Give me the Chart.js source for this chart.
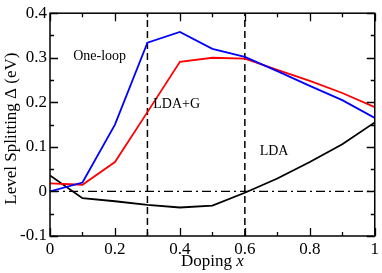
<!DOCTYPE html>
<html>
<head>
<meta charset="utf-8">
<script src="https://cdn.jsdelivr.net/npm/chart.js@4"></script>
<style>
  html, body { margin: 0; padding: 0; background: #fff; }
  #wrap { width: 382px; height: 273px; }
</style>
</head>
<body>
<div id="wrap"><canvas id="c"></canvas></div>
<script>
// doping values and level splitting (eV)
const doping = [0, 0.1, 0.2, 0.3, 0.4, 0.5, 0.6, 0.7, 0.8, 0.9, 1.0]
const oneLoop = [0.0, 0.02, 0.15, 0.334, 0.358, 0.32, 0.302, 0.27, 0.237, 0.205, 0.165]
const ldaG = [0.018, 0.015, 0.066, 0.178, 0.291, 0.300, 0.298, 0.273, 0.248, 0.221, 0.189]
const lda = [0.036, -0.015, -0.022, -0.030, -0.036, -0.032, -0.003, 0.029, 0.066, 0.106, 0.155]
const markers = [0.3, 0.6]
const xTicks = [0, 0.2, 0.4, 0.6, 0.8, 1]
const yTicks = [-0.1, 0, 0.1, 0.2, 0.3, 0.4]
const notes = [
  { text: "One-loop", x: 0.153, y: 0.303 },
  { text: "LDA+G", x: 0.39, y: 0.196 },
  { text: "LDA", x: 0.69, y: 0.091 }
]

const serif = "'Liberation Serif', 'DejaVu Serif', serif"
const pts = ys => doping.map((x, i) => ({ x: x, y: ys[i] }))

const datasets = [
  { data: pts(oneLoop), borderColor: "#0000ff", borderWidth: 1.8 },
  { data: pts(ldaG), borderColor: "#ff0000", borderWidth: 1.8 },
  { data: pts(lda), borderColor: "#000000", borderWidth: 1.8 },
  { data: [{ x: 0, y: 0 }, { x: 1, y: 0 }], borderColor: "#000", borderWidth: 1.3, borderDash: [9, 4, 2, 4] }
]
markers.forEach(m => {
  datasets.push({ data: [{ x: m, y: -0.1 }, { x: m, y: 0.4 }], borderColor: "#000", borderWidth: 1.5, borderDash: [7, 4] })
})

// inward ticks on all four sides + frame + titles + notes
const decor = {
  id: "decor",
  afterDatasetsDraw(chart) {
    const { ctx, chartArea: a, scales } = chart
    const xs = scales.x, ys = scales.y
    ctx.save()
    ctx.strokeStyle = "#000"
    ctx.lineWidth = 1.3
    for (let i = 0; i <= 10; i++) {
      const v = i / 10
      const px = Math.round(xs.getPixelForValue(v)) + 0.5
      const len = i % 2 === 0 ? 8 : 4
      ctx.beginPath()
      ctx.moveTo(px, a.bottom); ctx.lineTo(px, a.bottom - len)
      ctx.moveTo(px, a.top); ctx.lineTo(px, a.top + len)
      ctx.stroke()
    }
    for (let i = 0; i <= 10; i++) {
      const v = -0.1 + i * 0.05
      const py = Math.round(ys.getPixelForValue(v)) + 0.5
      const len = i % 2 === 0 ? 8 : 4
      ctx.beginPath()
      ctx.moveTo(a.left, py); ctx.lineTo(a.left + len, py)
      ctx.moveTo(a.right, py); ctx.lineTo(a.right - len, py)
      ctx.stroke()
    }
    ctx.lineWidth = 1.5
    ctx.strokeRect(a.left, a.top, a.right - a.left, a.bottom - a.top)

    ctx.fillStyle = "#000"
    ctx.font = "14px " + serif
    ctx.textAlign = "center"
    ctx.textBaseline = "middle"
    notes.forEach(n => ctx.fillText(n.text, xs.getPixelForValue(n.x), ys.getPixelForValue(n.y)))

    // x title with italic x
    const t1 = "Doping "
    ctx.font = "17px " + serif
    const w1 = ctx.measureText(t1).width
    ctx.font = "italic 17px " + serif
    const w2 = ctx.measureText("x").width
    const cx = (a.left + a.right) / 2
    const start = cx - (w1 + w2) / 2
    ctx.textAlign = "left"
    ctx.font = "17px " + serif
    ctx.fillText(t1, start, 262)
    ctx.font = "italic 17px " + serif
    ctx.fillText("x", start + w1, 262)

    // y title
    ctx.translate(12, (a.top + a.bottom) / 2 + 4)
    ctx.rotate(-Math.PI / 2)
    ctx.textAlign = "center"
    ctx.font = "17px " + serif
    ctx.fillText("Level Splitting \u0394 (eV)", 0, 0)
    ctx.restore()
  }
}

new Chart(document.getElementById("c"), {
  type: "line",
  data: { datasets: datasets },
  options: {
    responsive: true,
    maintainAspectRatio: false,
    animation: false,
    layout: { padding: { top: 7, right: 5, left: 0, bottom: 0 } },
    elements: { point: { radius: 0 }, line: { tension: 0, fill: false } },
    plugins: { legend: { display: false }, tooltip: { enabled: false } },
    scales: {
      x: {
        type: "linear", min: 0, max: 1,
        afterBuildTicks: s => { s.ticks = xTicks.map(v => ({ value: v })) },
        afterFit: s => { s.height = 37 },
        grid: { display: false, drawTicks: false },
        border: { display: false },
        ticks: {
          color: "#000", padding: 3,
          font: { family: serif, size: 17 },
          callback: v => String(v)
        }
      },
      y: {
        type: "linear", min: -0.1, max: 0.4,
        afterBuildTicks: s => { s.ticks = yTicks.map(v => ({ value: v })) },
        afterFit: s => { s.width = 50 },
        grid: { display: false, drawTicks: false },
        border: { display: false },
        ticks: {
          color: "#000", padding: 3,
          font: { family: serif, size: 17 },
          callback: v => String(Math.round(v * 10) / 10)
        }
      }
    }
  },
  plugins: [decor]
})
</script>
</body>
</html>
